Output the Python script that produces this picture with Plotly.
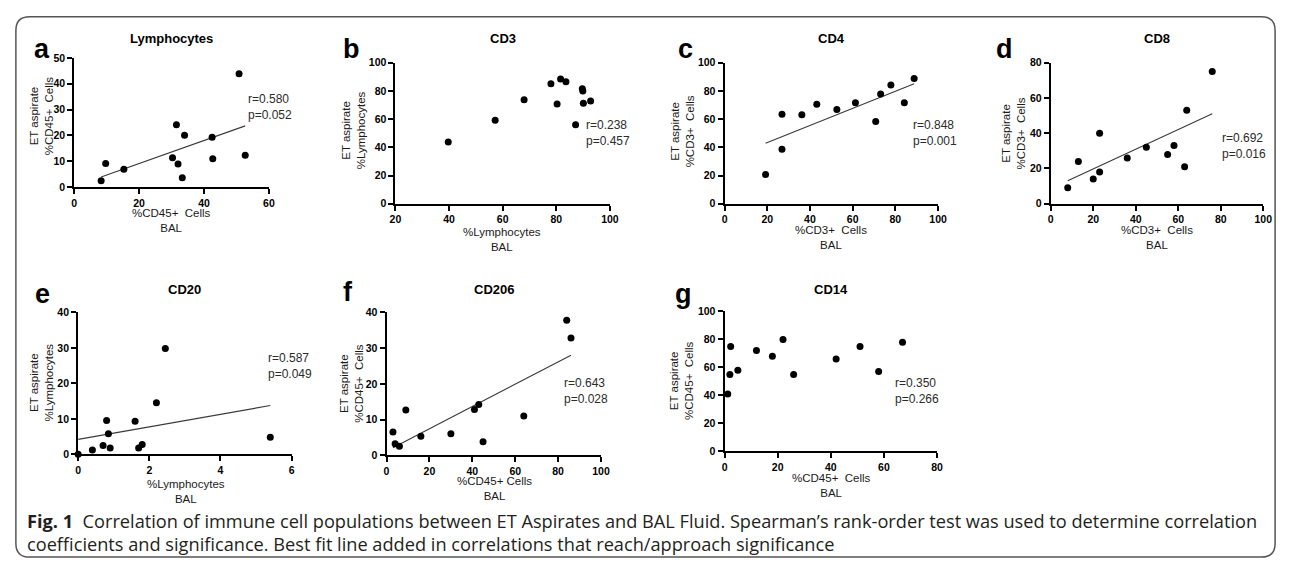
import numpy as np
import plotly.graph_objects as go

W, H = 1293, 568

# ---------------- data ----------------
a_x = [8.3, 9.7, 15.3, 30.3, 31.5, 32.0, 33.3, 34.0, 42.5, 42.7, 50.8, 52.7]
a_y = [2.5, 9.1, 6.9, 11.4, 24.1, 8.9, 3.6, 20.1, 19.3, 11.0, 43.9, 12.3]

b_x = [39.7, 57.2, 68.0, 78.0, 80.3, 81.6, 83.6, 87.2, 89.7, 89.9, 90.1, 92.8]
b_y = [43.8, 59.2, 73.8, 85.2, 70.8, 88.4, 86.5, 56.0, 81.5, 79.9, 71.3, 72.9]

c_x = [19.2, 26.9, 26.9, 36.2, 43.2, 52.6, 61.3, 70.8, 73.1, 77.9, 84.2, 88.8]
c_y = [20.8, 38.6, 63.4, 63.2, 70.6, 66.9, 71.7, 58.3, 77.8, 84.2, 71.7, 88.9]

d_x = [8, 13, 20, 23, 23, 36, 45, 55, 58, 63, 64, 76]
d_y = [9, 24, 14, 18, 40, 26, 32, 28, 33, 21, 53, 75]

e_x = [0.0, 0.4, 0.7, 0.8, 0.85, 0.9, 1.6, 1.7, 1.8, 2.2, 2.45, 5.4]
e_y = [0.0, 1.2, 2.5, 9.5, 5.8, 1.8, 9.3, 1.8, 2.8, 14.5, 29.8, 4.8]

f_x = [3, 4, 6, 9, 16, 30, 41, 43, 45, 64, 84, 86]
f_y = [6.5, 3.2, 2.5, 12.7, 5.3, 6.0, 12.8, 14.2, 3.8, 11.0, 37.8, 32.8]

g_x = [1.2, 2.0, 2.3, 5.0, 12.0, 18.0, 22.0, 26.0, 42.0, 51.0, 58.0, 67.0]
g_y = [41, 55, 75, 58, 72, 68, 80, 55, 66, 75, 57, 78]

titles = ["Lymphocytes", "CD3", "CD4", "CD8", "CD20", "CD206", "CD14"]
letters = ["a", "b", "c", "d", "e", "f", "g"]
stats = ["r=0.580<br>p=0.052", "r=0.238<br>p=0.457", "r=0.848<br>p=0.001",
         "r=0.692<br>p=0.016", "r=0.587<br>p=0.049", "r=0.643<br>p=0.028",
         "r=0.350<br>p=0.266"]
ytitles = ["ET aspirate<br>%CD45+  Cells", "ET aspirate<br>%Lymphocytes",
           "ET aspirate<br>%CD3+  Cells", "ET aspirate<br>%CD3+  Cells",
           "ET aspirate<br>%Lymphocytes", "ET aspirate<br>%CD45+  Cells",
           "ET aspirate<br>%CD45+  Cells"]
xtitles = ["%CD45+  Cells<br>BAL", "%Lymphocytes<br>BAL", "%CD3+  Cells<br>BAL",
           "%CD3+  Cells<br>BAL", "%Lymphocytes<br>BAL", "%CD45+ Cells<br>BAL",
           "%CD45+  Cells<br>BAL"]
xranges = [[0, 60], [20, 100], [0, 100], [0, 100], [0, 6], [0, 100], [0, 80]]
xticks = [[0, 20, 40, 60], [20, 40, 60, 80, 100], [0, 20, 40, 60, 80, 100],
          [0, 20, 40, 60, 80, 100], [0, 2, 4, 6], [0, 20, 40, 60, 80, 100],
          [0, 20, 40, 60, 80]]
yranges = [[0, 50], [0, 100], [0, 100], [0, 80], [0, 40], [0, 40], [0, 100]]
yticks = [[0, 10, 20, 30, 40, 50], [0, 20, 40, 60, 80, 100], [0, 20, 40, 60, 80, 100],
          [0, 20, 40, 60, 80], [0, 10, 20, 30, 40], [0, 10, 20, 30, 40],
          [0, 20, 40, 60, 80, 100]]
has_fit = [True, False, True, True, True, True, False]

caption1 = ("<b>Fig. 1</b>  Correlation of immune cell populations between ET Aspirates and BAL Fluid. "
            "Spearman’s rank-order test was used to determine correlation")
caption2 = ("coefficients and significance. Best fit line added in correlations that reach/approach significance")

xs = [a_x, b_x, c_x, d_x, e_x, f_x, g_x]
ys = [a_y, b_y, c_y, d_y, e_y, f_y, g_y]

# ---------------- layout (pixel boxes) ----------------
boxes = [(69, 266, 185, 53), (394, 611, 202, 58), (727, 943, 202, 58),
         (1057, 1272, 202, 58), (73, 289, 458, 313), (385, 602, 459, 313),
         (727, 942, 455, 312)]
letter_pos = [(36, 44), (350, 44), (687, 44), (1010, 44), (37, 294), (346, 292), (685, 294)]
title_y = [33, 33, 33, 33, 290, 290, 290]
stat_pos = [(243, 103), (585, 130), (916, 130), (1228, 143), (263, 368), (563, 393), (897, 393)]
ytitle_pos = [(36, 112), (351, 127), (684, 128), (1019, 130), (36, 385), (350, 385), (684, 383)]
xtitle_pos = [(167, 219), (502, 239), (835, 237), (1165, 237), (182, 496), (494, 493), (835, 490)]


def fx(p):
    return p / W


def fy(p):
    return 1 - p / H


fig = go.Figure()
layout = {}
annotations = []
tickfont = dict(family="Liberation Sans, Arial, sans-serif", size=10.5, color="black", weight="bold")

for i in range(7):
    sfx = "" if i == 0 else str(i + 1)
    xl, xr, yb, yt = boxes[i]
    layout["xaxis" + sfx] = dict(
        domain=[fx(xl), fx(xr)], range=xranges[i], tickvals=xticks[i],
        anchor="y" + sfx, showgrid=False, zeroline=False, showline=True,
        linecolor="black", linewidth=2, ticks="outside", ticklen=5, tickwidth=2,
        tickcolor="black", tickfont=tickfont, fixedrange=True)
    layout["yaxis" + sfx] = dict(
        domain=[fy(yb), fy(yt)], range=yranges[i], tickvals=yticks[i],
        anchor="x" + sfx, showgrid=False, zeroline=False, showline=True,
        linecolor="black", linewidth=2, ticks="outside", ticklen=5, tickwidth=2,
        tickcolor="black", tickfont=tickfont, fixedrange=True)

    x = np.array(xs[i], dtype=float)
    y = np.array(ys[i], dtype=float)
    if has_fit[i]:
        m, c = np.polyfit(x, y, 1)
        lx = np.array([x.min(), x.max()])
        fig.add_trace(go.Scatter(x=lx, y=m * lx + c, mode="lines",
                                 line=dict(color="#3a3a3a", width=1.1),
                                 xaxis="x" + sfx, yaxis="y" + sfx,
                                 showlegend=False, hoverinfo="skip", cliponaxis=False))
    fig.add_trace(go.Scatter(x=x, y=y, mode="markers",
                             marker=dict(color="black", size=7),
                             xaxis="x" + sfx, yaxis="y" + sfx,
                             showlegend=False, cliponaxis=False))

    annotations.append(dict(text=f"<b>{letters[i]}</b>", x=fx(letter_pos[i][0]), y=fy(letter_pos[i][1]),
                            xref="paper", yref="paper", showarrow=False, xanchor="center", yanchor="middle",
                            font=dict(family="Liberation Sans, Arial", size=27, color="black")))
    annotations.append(dict(text=f"<b>{titles[i]}</b>", x=fx((xl + xr) / 2), y=fy(title_y[i]),
                            xref="paper", yref="paper", showarrow=False, xanchor="center", yanchor="middle",
                            font=dict(family="Liberation Sans, Arial", size=13, color="black")))
    annotations.append(dict(text=stats[i], x=fx(stat_pos[i][0]), y=fy(stat_pos[i][1]),
                            xref="paper", yref="paper", showarrow=False, xanchor="left", yanchor="middle",
                            align="left",
                            font=dict(family="Liberation Sans, Arial", size=12, color="#2b2b2b")))
    annotations.append(dict(text=ytitles[i], x=fx(ytitle_pos[i][0]), y=fy(ytitle_pos[i][1]),
                            xref="paper", yref="paper", showarrow=False, xanchor="center", yanchor="middle",
                            textangle=-90, align="center",
                            font=dict(family="Liberation Sans, Arial", size=11.5, color="#1a1a1a")))
    annotations.append(dict(text=xtitles[i], x=fx(xtitle_pos[i][0]), y=fy(xtitle_pos[i][1]),
                            xref="paper", yref="paper", showarrow=False, xanchor="center", yanchor="middle",
                            align="center",
                            font=dict(family="Liberation Sans, Arial", size=11.5, color="#1a1a1a")))

# caption
annotations.append(dict(text=caption1, x=fx(19), y=fy(526), xref="paper", yref="paper", showarrow=False,
                        xanchor="left", yanchor="middle", align="left",
                        font=dict(family="Open Sans, sans-serif", size=18.2, color="#231f20")))
annotations.append(dict(text=caption2, x=fx(19), y=fy(550), xref="paper", yref="paper", showarrow=False,
                        xanchor="left", yanchor="middle", align="left",
                        font=dict(family="Open Sans, sans-serif", size=18.2, color="#231f20")))

# rounded frame
x0, x1, y0, y1, r = 10, 1284, 11, 563, 14
pts = [("M", x0 + r, y0), ("L", x1 - r, y0), ("Q", x1, y0, x1, y0 + r), ("L", x1, y1 - r),
       ("Q", x1, y1, x1 - r, y1), ("L", x0 + r, y1), ("Q", x0, y1, x0, y1 - r), ("L", x0, y0 + r),
       ("Q", x0, y0, x0 + r, y0)]
path = ""
for p in pts:
    if p[0] == "Q":
        path += f"Q {fx(p[1]):.5f},{fy(p[2]):.5f} {fx(p[3]):.5f},{fy(p[4]):.5f} "
    else:
        path += f"{p[0]} {fx(p[1]):.5f},{fy(p[2]):.5f} "
path += "Z"

layout.update(dict(
    width=W, height=H, margin=dict(l=0, r=0, t=0, b=0),
    paper_bgcolor="white", plot_bgcolor="white",
    annotations=annotations,
    shapes=[dict(type="path", path=path, xref="paper", yref="paper",
                 line=dict(color="#555555", width=1.5))],
    showlegend=False,
))
fig.update_layout(**layout)

fig.write_html("out.html", config={"displayModeBar": False},
               post_script="document.body.style.margin='0';document.body.style.overflow='hidden';")
